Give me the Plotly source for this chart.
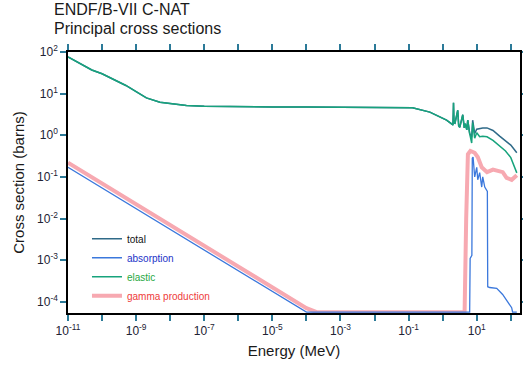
import numpy as np
import plotly.graph_objects as go

# ---------------- data ----------------
E_elastic = [1e-11, 2e-11, 5e-11, 1e-10, 2e-10, 5e-10, 1e-9, 2e-9, 5e-9, 1e-8, 3e-8,
             1e-7, 1e-6, 1e-5, 1e-4, 1e-3, 1e-2, 0.05, 0.13, 0.42, 1.0, 1.3, 1.95,
             2.0, 2.05, 2.08, 2.15, 2.3, 2.77, 2.95, 3.17, 3.89, 4.3, 4.6, 5.1, 5.45,
             6.2, 7.1, 7.6, 8.7, 10.0, 12.2, 15.0, 20.0, 30.0, 47.0, 70.0, 100.0, 150.0]
elastic = [76, 56, 37, 30, 23, 15.7, 11.2, 7.9, 6.2, 5.7, 5.2,
           5.0, 4.8, 4.78, 4.76, 4.75, 4.74, 4.7, 4.6, 3.6, 2.6, 2.3, 1.8,
           1.75, 3.5, 6.0, 2.0, 1.95, 4.0, 1.7, 1.55, 3.1, 1.5, 1.9, 1.35, 2.3,
           1.1, 0.65, 2.0, 0.85, 1.15, 0.92, 0.95, 0.92, 0.75, 0.55, 0.42, 0.29, 0.125]

E_total = [1e-11, 2e-11, 5e-11, 1e-10, 2e-10, 5e-10, 1e-9, 2e-9, 5e-9, 1e-8, 3e-8,
           1e-7, 1e-6, 1e-5, 1e-4, 1e-3, 1e-2, 0.05, 0.13, 0.42, 1.0, 1.3, 1.95,
           2.0, 2.05, 2.08, 2.15, 2.3, 2.77, 2.95, 3.17, 3.89, 4.3, 4.6, 5.1, 5.45,
           6.2, 7.1, 7.6, 8.7, 10.0, 12.2, 15.0, 20.0, 30.0, 47.0, 70.0, 100.0, 150.0]
total = [76, 56, 37, 30, 23, 15.7, 11.2, 7.9, 6.2, 5.7, 5.2,
         5.0, 4.8, 4.78, 4.76, 4.75, 4.74, 4.7, 4.6, 3.6, 2.6, 2.3, 1.8,
         1.75, 3.5, 6.0, 2.0, 1.95, 4.0, 1.7, 1.55, 3.1, 1.5, 1.9, 1.35, 2.3,
         1.1, 0.9, 2.3, 1.1, 1.4, 1.45, 1.5, 1.5, 1.3, 0.95, 0.75, 0.58, 0.38]

E_absorption = [1e-11, 1e-9, 1e-7, 1e-5, 1e-4, 1e-3, 1e-1, 1.0, 6.2, 6.4, 7.2, 7.4,
                7.8, 8.7, 10.0, 10.7, 12.2, 14.0, 15.0, 17.2, 19.6, 20.5, 21.0,
                24.0, 38.6, 57.6, 81.0, 106.0, 113.0, 150.0]
absorption = [0.17, 0.017, 0.0017, 1.7e-4, 5.4e-5, 1.7e-5, 1.7e-6, 5.4e-7, 2.2e-7,
              1.1e-3, 1.3e-3, 0.28, 0.30, 0.10, 0.17, 0.085, 0.126, 0.057, 0.10,
              0.057, 0.049, 0.045, 2.3e-4, 2.2e-4, 2.1e-4, 1.5e-4, 1.0e-4, 7.2e-5,
              4e-5, 1e-5]

E_gamma = [1e-11, 1e-9, 1e-7, 1e-5, 1e-4, 2e-4, 1e-3, 1e-1, 1.0, 4.4, 4.9, 5.5, 6.5,
           7.5, 8.7, 10.7, 14.0, 20.0, 30.0, 58.0, 75.0, 106.0, 150.0]
gamma = [0.22, 0.022, 2.2e-3, 2.2e-4, 7e-5, 4.9e-5, 2.2e-5, 2.2e-6, 7e-7, 4.6e-7,
         0.01, 0.35, 0.42, 0.40, 0.38, 0.30, 0.17, 0.13, 0.15, 0.13, 0.095, 0.085, 0.11]

x_tick_exponents = list(range(-11, 3))
x_tick_labels = ["10<sup>%d</sup>" % e if e % 2 else "" for e in x_tick_exponents]
y_tick_exponents = list(range(-4, 3))

# ---------------- figure ----------------
Y_LOG_MIN, Y_LOG_MAX = -4.27, 2.0
X_LOG_MIN, X_LOG_MAX = -11.0, 2.27
FLOOR = 10 ** -4.25  # values below the axis are drawn along it, as in the original
FONT = "Liberation Sans, Arial, sans-serif"


def clip(v):
    return np.maximum(np.array(v, dtype=float), FLOOR)


fig = go.Figure()
fig.add_trace(go.Scatter(x=E_gamma, y=clip(gamma), mode="lines",
                         name='<span style="color:#ee3b3b">gamma production</span>',
                         line=dict(color="#f7a9b1", width=4), legendrank=4))
fig.add_trace(go.Scatter(x=E_absorption, y=clip(absorption), mode="lines",
                         name='<span style="color:#2233c8">absorption</span>',
                         line=dict(color="#3b78dc", width=1.3), legendrank=2))
fig.add_trace(go.Scatter(x=E_total, y=clip(total), mode="lines",
                         name='<span style="color:#111111">total</span>',
                         line=dict(color="#2f6a88", width=1.5), legendrank=1))
fig.add_trace(go.Scatter(x=E_elastic, y=clip(elastic), mode="lines",
                         name='<span style="color:#1fa843">elastic</span>',
                         line=dict(color="#17a37c", width=1.5), legendrank=3))

axis_common = dict(
    type="log", showgrid=False, zeroline=False, automargin=False,
    showline=True, linecolor="black", linewidth=1.5, mirror="ticks",
    ticks="outside", ticklen=6, tickwidth=1.5, tickcolor="#2b7a98",
    tickfont=dict(family=FONT, size=12, color="#222233"),
    layer="below traces",
)

fig.update_xaxes(
    **axis_common,
    range=[X_LOG_MIN, X_LOG_MAX],
    tickmode="array",
    tickvals=[10.0 ** e for e in x_tick_exponents],
    ticktext=x_tick_labels,
    title=dict(text="Energy (MeV)", standoff=8,
               font=dict(family=FONT, size=15, color="#1a1a1a")),
)
fig.update_yaxes(
    **axis_common,
    range=[Y_LOG_MIN, Y_LOG_MAX],
    tickmode="array",
    tickvals=[10.0 ** e for e in y_tick_exponents],
    ticktext=["10<sup>%d</sup>" % e for e in y_tick_exponents],
    title=dict(text="Cross section (barns)", standoff=9,
               font=dict(family=FONT, size=15, color="#1a1a1a")),
)

fig.update_layout(
    width=523, height=365,
    margin=dict(l=68, r=3, t=52, b=52, autoexpand=False),
    paper_bgcolor="white", plot_bgcolor="white",
    font=dict(family=FONT),
    showlegend=True,
    legend=dict(x=0.042, y=0.34, xanchor="left", yanchor="top",
                bgcolor="rgba(0,0,0,0)", borderwidth=0, tracegroupgap=0,
                font=dict(size=10, family=FONT)),
    annotations=[
        dict(text="ENDF/B-VII C-NAT", xref="paper", yref="paper",
             x=-16 / 452, y=1 + 42 / 261, xanchor="left", yanchor="middle",
             showarrow=False, font=dict(family=FONT, size=16, color="#1a1a1a")),
        dict(text="Principal cross sections", xref="paper", yref="paper",
             x=-16 / 452, y=1 + 24 / 261, xanchor="left", yanchor="middle",
             showarrow=False, font=dict(family=FONT, size=16, color="#1a1a1a")),
    ],
)

# the page's default 8px body margin would shift the 523x365 figure; remove it
fig.write_html("out.html", config={"displayModeBar": False},
               post_script="document.body.style.margin='0';")
